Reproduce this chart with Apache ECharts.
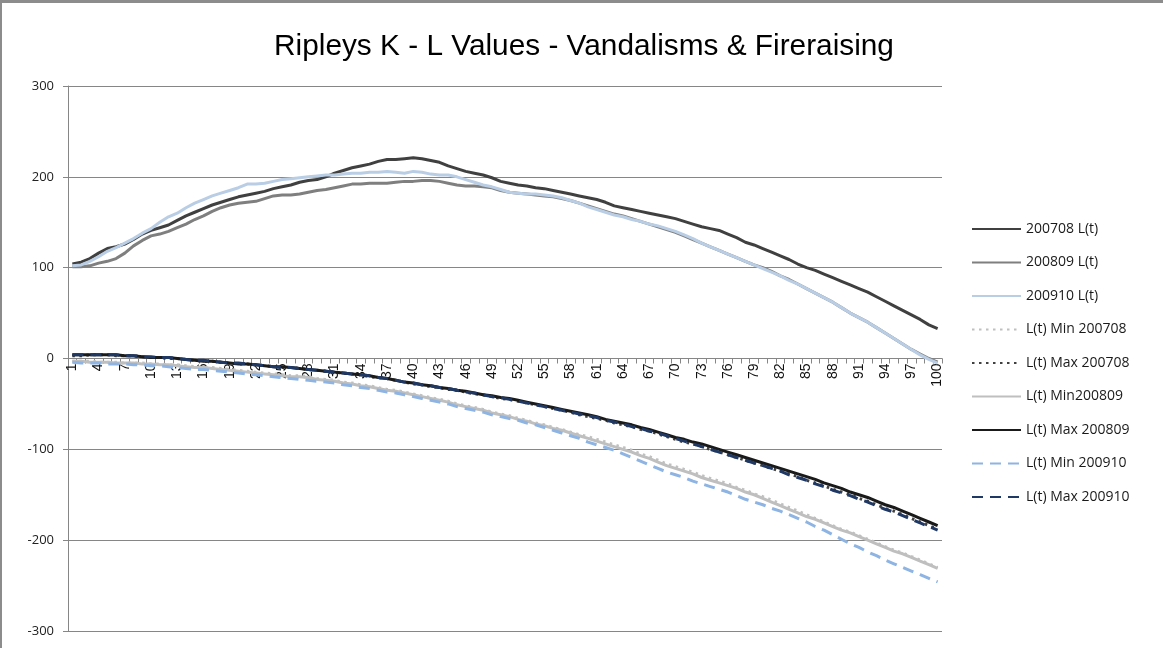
<!DOCTYPE html>
<html>
<head>
<meta charset="utf-8">
<script src="https://cdn.jsdelivr.net/npm/echarts@6/dist/echarts.min.js"></script>
<style>
  html, body { margin: 0; padding: 0; background: #fff; }
  #frame { position: absolute; left: 0; top: 0; width: 1163px; height: 648px; box-sizing: border-box; border-top: 3px solid #8c8c8c; border-left: 2px solid #8c8c8c; pointer-events: none; }
  #chart { width: 1163px; height: 648px; }
</style>
</head>
<body>
<div id="chart"></div>
<div id="frame"></div>
<script>
const categories = Array.from({ length: 100 }, (_, i) => String(i + 1));

const l200708 = [104, 106, 110, 116, 121, 123, 126, 131, 137, 141, 144, 147, 152, 157, 161, 165, 169, 172, 175, 178,
  180, 182, 184, 187, 189, 191, 194, 196, 197, 200, 204, 207, 210, 212, 214, 217, 219, 219, 220, 221,
  220, 218, 216, 212, 209, 206, 204, 202, 199, 195, 193, 191, 190, 188, 187, 185, 183, 181, 179, 177,
  175, 172, 168, 166, 164, 162, 160, 158, 156, 154, 151, 148, 145, 143, 141, 137, 133, 128, 125, 121,
  117, 113, 109, 104, 100, 97, 93, 89, 85, 81, 77, 73, 68, 63, 58, 53, 48, 43, 37, 33];

const l200809 = [101, 101, 102, 105, 107, 110, 116, 124, 130, 135, 137, 140, 144, 148, 153, 157, 162, 166, 169, 171,
  172, 173, 176, 179, 180, 180, 181, 183, 185, 186, 188, 190, 192, 192, 193, 193, 193, 194, 195, 195,
  196, 196, 195, 193, 191, 190, 190, 189, 188, 185, 183, 182, 181, 180, 179, 178, 176, 174, 171, 168,
  165, 162, 159, 157, 154, 151, 148, 145, 142, 139, 135, 131, 127, 123, 119, 115, 111, 107, 103, 100,
  96, 91, 87, 82, 77, 72, 67, 62, 56, 50, 45, 40, 34, 28, 22, 16, 10, 5, 0, -4];

const l200910 = [102, 103, 107, 112, 118, 122, 127, 132, 138, 143, 150, 156, 160, 166, 171, 175, 179, 182, 185, 188,
  192, 192, 193, 195, 197, 198, 199, 200, 201, 202, 202, 203, 204, 204, 205, 205, 206, 205, 204, 206,
  205, 203, 202, 202, 200, 197, 194, 191, 189, 186, 183, 182, 181, 181, 180, 179, 177, 174, 171, 167,
  164, 161, 158, 156, 153, 151, 148, 146, 143, 140, 136, 132, 127, 123, 119, 115, 111, 107, 103, 99,
  95, 91, 86, 82, 77, 72, 67, 62, 56, 50, 45, 40, 34, 28, 22, 16, 10, 4, -1, -5];

const min200708 = [-3, -3, -3, -4, -4, -4, -5, -5, -5, -6, -6, -7, -7, -8, -9, -10, -10, -11, -12, -13,
  -14, -15, -16, -17, -18, -19, -19, -20, -22, -23, -24, -26, -27, -29, -30, -32, -34, -35, -37, -39,
  -41, -43, -45, -47, -50, -52, -54, -56, -59, -61, -63, -66, -68, -71, -73, -76, -78, -81, -84, -86,
  -89, -92, -95, -98, -101, -105, -108, -112, -116, -119, -122, -125, -129, -132, -135, -138, -142, -145, -149, -152,
  -156, -160, -164, -168, -172, -176, -180, -184, -188, -191, -195, -199, -203, -207, -211, -214, -218, -222, -226, -230];

const max200708 = [3, 3, 4, 4, 4, 3, 3, 3, 2, 1, 1, 0, 0, -1, -2, -3, -3, -4, -5, -6,
  -6, -7, -8, -9, -10, -10, -11, -12, -13, -14, -15, -16, -17, -18, -20, -21, -22, -24, -26, -28,
  -29, -31, -32, -34, -35, -37, -39, -40, -42, -44, -45, -47, -49, -51, -53, -55, -57, -59, -62, -64,
  -66, -68, -71, -73, -75, -78, -80, -83, -86, -89, -92, -94, -97, -100, -103, -106, -109, -112, -115, -118,
  -121, -124, -127, -130, -134, -137, -140, -144, -147, -150, -154, -157, -161, -165, -168, -172, -176, -180, -184, -188];

const min200809 = [-3, -3, -4, -4, -4, -5, -5, -5, -6, -6, -7, -7, -8, -9, -10, -10, -11, -12, -13, -14,
  -15, -16, -17, -18, -19, -20, -20, -21, -23, -24, -25, -27, -28, -30, -31, -33, -35, -36, -38, -40,
  -42, -44, -46, -48, -51, -53, -55, -57, -60, -62, -64, -67, -69, -72, -74, -77, -79, -82, -85, -88,
  -91, -94, -97, -100, -103, -107, -110, -114, -118, -121, -124, -127, -131, -134, -137, -140, -143, -147, -150, -154,
  -158, -162, -166, -170, -174, -177, -181, -185, -189, -192, -196, -200, -204, -208, -212, -215, -219, -223, -227, -231];

const max200809 = [4, 4, 4, 4, 4, 4, 3, 3, 2, 1, 1, 1, 0, -1, -2, -3, -3, -4, -5, -6,
  -6, -7, -8, -9, -9, -10, -11, -12, -13, -14, -15, -16, -17, -18, -19, -21, -22, -24, -26, -27,
  -29, -30, -32, -33, -35, -36, -38, -40, -41, -43, -44, -46, -48, -50, -52, -54, -56, -58, -60, -62,
  -64, -67, -69, -71, -73, -76, -78, -81, -84, -87, -89, -92, -94, -97, -100, -103, -106, -109, -112, -115,
  -118, -121, -124, -127, -130, -133, -137, -140, -143, -147, -150, -153, -157, -161, -164, -168, -172, -176, -180, -184];

const min200910 = [-4, -5, -5, -5, -6, -6, -6, -7, -7, -8, -8, -9, -10, -11, -12, -12, -13, -14, -15, -16,
  -17, -18, -19, -20, -21, -22, -23, -24, -25, -26, -27, -29, -30, -32, -33, -35, -37, -38, -40, -42,
  -44, -46, -48, -50, -53, -55, -57, -59, -62, -64, -66, -68, -71, -73, -76, -79, -82, -85, -88, -92,
  -95, -98, -101, -105, -109, -113, -117, -121, -125, -128, -131, -135, -138, -141, -144, -147, -151, -155, -158, -161,
  -165, -168, -172, -176, -180, -185, -189, -194, -199, -204, -208, -213, -217, -222, -226, -230, -234, -238, -242, -246];

const max200910 = [4, 4, 4, 4, 4, 4, 3, 3, 2, 2, 1, 1, 0, -1, -2, -2, -3, -4, -5, -5,
  -6, -7, -8, -9, -10, -10, -11, -12, -13, -14, -15, -16, -17, -18, -19, -21, -22, -24, -26, -27,
  -29, -30, -32, -33, -35, -37, -38, -40, -42, -43, -45, -47, -49, -51, -53, -55, -57, -59, -61, -63,
  -65, -68, -70, -72, -75, -77, -80, -82, -85, -88, -91, -94, -97, -100, -103, -106, -109, -112, -115, -118,
  -121, -124, -128, -131, -134, -138, -141, -145, -148, -151, -155, -158, -162, -166, -169, -173, -177, -181, -185, -189];

const seriesNames = ["200708 L(t)", "200809 L(t)", "200910 L(t)", "L(t) Min 200708", "L(t) Max 200708",
  "L(t) Min200809", "L(t) Max 200809", "L(t) Min 200910", "L(t) Max 200910"];
const seriesData = [l200708, l200809, l200910, min200708, max200708, min200809, max200809, min200910, max200910];
const seriesColors = ["#404040", "#7f7f7f", "#b9cde5", "#c0c0c0", "#404040", "#bfbfbf", "#1a1a1a", "#8db4e2", "#1f3864"];
const seriesDash = ["solid", "solid", "solid", [2.5, 4.5], [2.5, 4.5], "solid", "solid", [11, 7], [11, 7]];

const chart = echarts.init(document.getElementById("chart"));

chart.setOption({
  backgroundColor: "#fff",
  animation: false,
  title: {
    text: "Ripleys K - L Values - Vandalisms & Fireraising",
    left: 579,
    textAlign: "center",
    top: 27,
    textStyle: {
      fontFamily: "Liberation Sans, sans-serif",
      fontSize: 29.8,
      fontWeight: "normal",
      color: "#000",
    },
  },
  legend: {
    orient: "vertical",
    left: 966,
    top: 217,
    itemWidth: 49,
    itemHeight: 14,
    itemGap: 19.5,
    itemStyle: { opacity: 0 },
    textStyle: {
      fontFamily: "Open Sans, Liberation Sans, sans-serif",
      fontSize: 14,
      color: "#1a1a1a",
    },
    data: seriesNames,
  },
  grid: {
    left: 68,
    right: 221,
    top: 86,
    bottom: 17,
    outerBoundsMode: "none",
  },
  xAxis: {
    type: "category",
    data: categories,
    boundaryGap: true,
    offset: -272.5,
    axisLine: { onZero: false, lineStyle: { color: "#868686" } },
    axisTick: { show: true, interval: 0, length: 5, lineStyle: { color: "#868686" } },
    axisLabel: {
      interval: 2,
      rotate: 90,
      margin: 5,
      fontFamily: "Liberation Sans, sans-serif",
      fontSize: 14,
      color: "#111",
    },
  },
  yAxis: {
    type: "value",
    min: -300,
    max: 300,
    interval: 100,
    axisLine: { show: true, lineStyle: { color: "#868686" } },
    axisTick: { show: true, length: 5, lineStyle: { color: "#868686" } },
    splitLine: { lineStyle: { color: "#868686" } },
    axisLabel: {
      margin: 14,
      fontFamily: "Open Sans, Liberation Sans, sans-serif",
      fontSize: 13,
      color: "#222",
    },
  },
  series: seriesNames.map((name, i) => ({
    name,
    type: "line",
    data: seriesData[i],
    symbol: "none",
    z: 2 + i,
    lineStyle: { color: seriesColors[i], width: 3, type: seriesDash[i] },
    itemStyle: { color: seriesColors[i] },
  })),
});
</script>
</body>
</html>
